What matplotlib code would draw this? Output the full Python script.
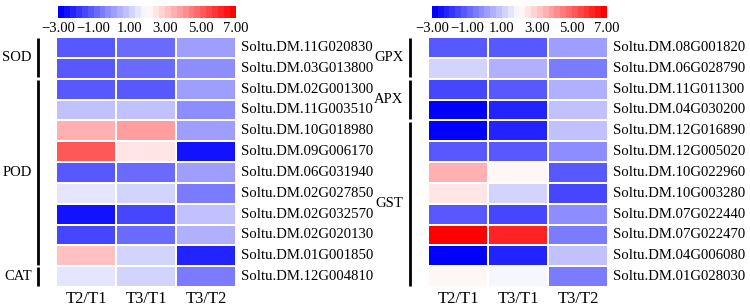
import numpy as np
import matplotlib
matplotlib.use("Agg")
import matplotlib.pyplot as plt
from matplotlib.colors import LinearSegmentedColormap, Normalize

plt.rcParams['font.family'] = ['Liberation Serif', 'DejaVu Serif']

# column labels
cols = ["T2/T1", "T3/T1", "T3/T2"]

# left panel
left_genes = ["Soltu.DM.11G020830", "Soltu.DM.03G013800", "Soltu.DM.02G001300",
              "Soltu.DM.11G003510", "Soltu.DM.10G018980", "Soltu.DM.09G006170",
              "Soltu.DM.06G031940", "Soltu.DM.02G027850", "Soltu.DM.02G032570",
              "Soltu.DM.02G020130", "Soltu.DM.01G001850", "Soltu.DM.12G004810"]
left_vals = [[-1.33, -0.94, 0.14],
             [-1.04, -0.94, -0.25],
             [-1.33, -1.04, 0.04],
             [0.82, 0.82, -0.25],
             [3.57, 3.86, 0.14],
             [5.04, 2.59, -2.41],
             [-1.33, -0.94, 0.14],
             [1.51, 1.22, -0.55],
             [-2.41, -1.63, 0.82],
             [-1.63, -0.94, 0.43],
             [3.18, 1.22, -2.12],
             [1.51, 1.22, -0.55]]
left_groups = ["SOD", "POD", "CAT"]
left_spans = [(0, 2), (2, 11), (11, 12)]

# right panel
right_genes = ["Soltu.DM.08G001820", "Soltu.DM.06G028790", "Soltu.DM.11G011300",
               "Soltu.DM.04G030200", "Soltu.DM.12G016890", "Soltu.DM.12G005020",
               "Soltu.DM.10G022960", "Soltu.DM.10G003280", "Soltu.DM.07G022440",
               "Soltu.DM.07G022470", "Soltu.DM.04G006080", "Soltu.DM.01G028030"]
right_vals = [[-1.33, -1.33, 0.14],
              [1.22, 0.43, -0.55],
              [-1.63, -1.24, 0.43],
              [-3.00, -2.12, 0.82],
              [-3.00, -2.12, 0.82],
              [-1.33, -1.33, -0.25],
              [3.57, 2.20, -1.33],
              [2.59, 1.22, -1.63],
              [-1.33, -1.63, -0.06],
              [6.70, 6.00, -0.55],
              [-3.00, -2.12, 0.82],
              [2.20, 1.80, -0.55]]
right_groups = ["GPX", "APX", "GST"]
right_spans = [(0, 2), (2, 4), (4, 12)]

ticks = [-3, -1, 1, 3, 5, 7]

W, H = 750, 308
cmap = LinearSegmentedColormap.from_list("bwr2", ["#0000ff", "#ffffff", "#ff0000"], N=30)
norm = Normalize(vmin=-3, vmax=7)
fs = 10.6

fig = plt.figure(figsize=(W / 100, H / 100), dpi=100)


def px(x0, y0, x1, y1):
    return [x0 / W, 1 - y1 / H, (x1 - x0) / W, (y1 - y0) / H]


def panel(hx, cbx, genes, vals, groups, spans, linex):
    ax = fig.add_axes(px(hx[0], 37, hx[1], 287))
    data = np.array(vals)
    ax.pcolormesh(data, cmap=cmap, norm=norm, edgecolors="white", linewidth=1.2)
    ax.set_xlim(0, 3)
    ax.set_ylim(len(genes), 0)
    for s in ax.spines.values():
        s.set_visible(False)
    ax.set_xticks(np.arange(3) + 0.5)
    ax.set_xticklabels(cols, fontsize=12)
    ax.set_yticks([])
    ax.tick_params(axis="x", length=0, pad=3)
    for i, g in enumerate(genes):
        ax.text(3.08, i + 0.5, g, va="center", ha="left", fontsize=fs, clip_on=False)
    # group brackets
    trans = ax.get_yaxis_transform()
    xl = (linex - hx[0]) / (hx[1] - hx[0])
    for name, (a, b) in zip(groups, spans):
        ax.plot([xl, xl], [a + 0.06, b - 0.06], color="black", lw=2,
                transform=trans, clip_on=False, solid_capstyle="butt")
        ax.text(xl - 0.036, (a + b) / 2, name, ha="right", va="center",
                fontsize=10.5, transform=trans)

    cax = fig.add_axes(px(cbx[0], 6, cbx[1], 18))
    cb = fig.colorbar(plt.cm.ScalarMappable(norm=norm, cmap=cmap), cax=cax,
                      orientation="horizontal", ticks=ticks)
    cb.outline.set_visible(False)
    cb.set_ticklabels([f"{t:.2f}".replace("-", "\u2212") for t in ticks])
    cax.tick_params(length=0, labelsize=10.5, pad=3)


panel((56, 236), (58, 236), left_genes, left_vals, left_groups, left_spans, 38)
panel((428, 608), (432, 607), right_genes, right_vals, right_groups, right_spans, 410)

fig.savefig("out.png", dpi=100)
